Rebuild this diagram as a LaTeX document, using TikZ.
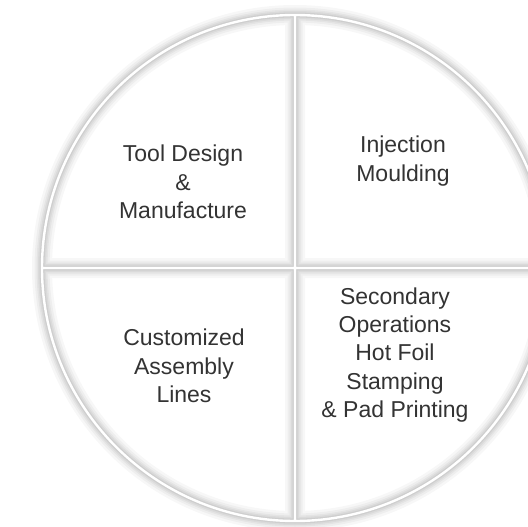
\documentclass[tikz,border=0pt]{standalone}
\usepackage{fontspec}
\setmainfont{Liberation Sans}
\begin{document}
\begin{tikzpicture}[x=1pt,y=-1pt,
  lbl/.style={align=center, text=black!80, inner sep=0pt,
    font=\fontsize{23}{28.4}\selectfont},
  glow/.style={black, line cap=butt, shift={(-5,-5)}}]
\useasboundingbox (0,0) rectangle (528,527);
\clip (0,0) rectangle (528,527);
\fill[white] (0,0) rectangle (528,527);
\coordinate (c) at (295,268);
\coordinate (top) at (295,15);
\coordinate (bot) at (295,521);
\coordinate (lft) at (42,268);
\coordinate (rgt) at (560,268);
\foreach \w/\o in {20/0.03, 15/0.035, 11/0.04, 8/0.045, 5/0.05}{
  \draw[glow, line width=\w, opacity=\o] (c) circle[radius=253] (top) -- (bot) (lft) -- (rgt);
}
\draw[white, line width=2.4] (c) circle[radius=253] (top) -- (bot) (lft) -- (rgt);
\node[lbl] (tl) at (183,182) {Tool Design\\\&\\Manufacture};
\node[lbl] (tr) at (403,161) {Injection\\Moulding};
\node[lbl] (bl) at (184,366) {Customized\\Assembly\\Lines};
\node[lbl] (br) at (395,355) {Secondary\\Operations\\Hot Foil\\Stamping\\\& Pad Printing};
\end{tikzpicture}
\end{document}
